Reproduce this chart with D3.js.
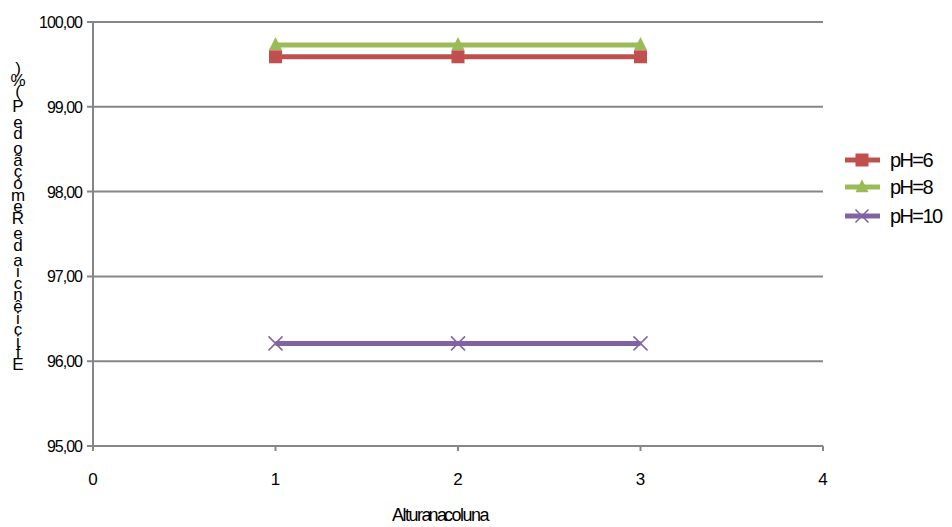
<!DOCTYPE html>
<html>
<head>
<meta charset="utf-8">
<script src="https://cdn.jsdelivr.net/npm/d3@7"></script>
<style>
  html, body { margin: 0; padding: 0; background: #fff; }
  svg text { font-family: "Liberation Sans", Arial, sans-serif; fill: #000; }
</style>
</head>
<body>
<svg id="chart" width="952" height="527"></svg>
<script>
// Column heights (x) and removal efficiency per pH
const heights = [1, 2, 3];
const seriesNames = ["pH=6", "pH=8", "pH=10"];
const valuesPH6 = [99.59, 99.59, 99.59];
const valuesPH8 = [99.73, 99.73, 99.73];
const valuesPH10 = [96.21, 96.21, 96.21];
const xTicks = [0, 1, 2, 3, 4];
const yTicks = [95, 96, 97, 98, 99, 100];
const xTitle = "Altura na coluna";
const yTitle = "Eficiência de Remoção de P (%)";

const colors = ["#C0504D", "#9BBB59", "#8064A2"];
const markers = ["square", "triangle", "cross"];
const series = seriesNames.map((name, i) => ({
  name,
  values: [valuesPH6, valuesPH8, valuesPH10][i],
  color: colors[i],
  marker: markers[i]
}));

const svg = d3.select("#chart");
const x = d3.scaleLinear().domain([0, 4]).range([93, 823]);
const y = d3.scaleLinear().domain([95, 100]).range([446, 22]);
const gridColor = "#868686";

// Horizontal gridlines
svg.append("g").selectAll("line").data(yTicks).join("line")
  .attr("x1", 87).attr("x2", x(4))
  .attr("y1", d => y(d)).attr("y2", d => y(d))
  .attr("stroke", gridColor).attr("stroke-width", 2);

// Vertical axis line
svg.append("line")
  .attr("x1", x(0)).attr("x2", x(0)).attr("y1", y(100)).attr("y2", y(95) + 5)
  .attr("stroke", gridColor).attr("stroke-width", 2);

// Minor tick marks on the x axis
svg.append("g").selectAll("line").data(xTicks.slice(1)).join("line")
  .attr("x1", d => x(d)).attr("x2", d => x(d))
  .attr("y1", y(95)).attr("y2", y(95) + 5)
  .attr("stroke", gridColor).attr("stroke-width", 2);

// Y tick labels
const fmt = d => d3.format(".2f")(d).replace(".", ",");
svg.append("g").selectAll("text").data(yTicks).join("text")
  .attr("x", 82).attr("y", d => y(d) + 6)
  .attr("text-anchor", "end")
  .attr("font-size", 16).attr("letter-spacing", -1)
  .text(fmt);

// X tick labels
svg.append("g").selectAll("text").data(xTicks).join("text")
  .attr("x", d => x(d)).attr("y", 485)
  .attr("text-anchor", "middle")
  .attr("font-size", 17)
  .text(d => d);

// X axis title (tightly set)
svg.append("text")
  .attr("x", 440).attr("y", 521)
  .attr("text-anchor", "middle")
  .attr("font-size", 18).attr("letter-spacing", -1.5)
  .attr("word-spacing", -5)
  .text(xTitle);

// Y axis title: upright characters stacked from bottom to top
const yChars = Array.from(yTitle);
const yt = svg.append("text").attr("font-size", 17).attr("text-anchor", "middle");
let cy = 370;
yChars.forEach(ch => {
  if (ch === " ") { cy -= 3.5; return; }
  yt.append("tspan").attr("x", 18).attr("y", cy).text(ch);
  cy -= 11.6;
});

// Marker drawing
function drawMarker(g, type, cx, cyy, color, size) {
  if (type === "square") {
    g.append("rect").attr("x", cx - size / 2).attr("y", cyy - size / 2)
      .attr("width", size).attr("height", size).attr("fill", color);
  } else if (type === "triangle") {
    const h = size;
    g.append("path")
      .attr("d", `M${cx},${cyy - h * 0.6}L${cx + h / 2},${cyy + h * 0.4}L${cx - h / 2},${cyy + h * 0.4}Z`)
      .attr("fill", color);
  } else {
    const s = size / 2;
    g.append("path")
      .attr("d", `M${cx - s},${cyy - s}L${cx + s},${cyy + s}M${cx - s},${cyy + s}L${cx + s},${cyy - s}`)
      .attr("stroke", color).attr("stroke-width", 1.5).attr("fill", "none");
  }
}

const line = d3.line().x((d, i) => x(heights[i])).y(d => y(d));
series.forEach(s => {
  const g = svg.append("g");
  g.append("path").datum(s.values)
    .attr("d", line).attr("fill", "none")
    .attr("stroke", s.color).attr("stroke-width", 5);
  s.values.forEach((v, i) => drawMarker(g, s.marker, x(heights[i]), y(v), s.color, s.marker === "cross" ? 14 : 13));
});

// Legend
const legendY = [160, 187, 216];
series.forEach((s, i) => {
  const g = svg.append("g");
  g.append("line").attr("x1", 845).attr("x2", 880)
    .attr("y1", legendY[i]).attr("y2", legendY[i])
    .attr("stroke", s.color).attr("stroke-width", 5);
  drawMarker(g, s.marker, 862, legendY[i], s.color, 13);
  g.append("text").attr("x", 890).attr("y", legendY[i] + 7)
    .attr("font-size", 20).attr("letter-spacing", -1.6)
    .text(s.name);
});
</script>
</body>
</html>
